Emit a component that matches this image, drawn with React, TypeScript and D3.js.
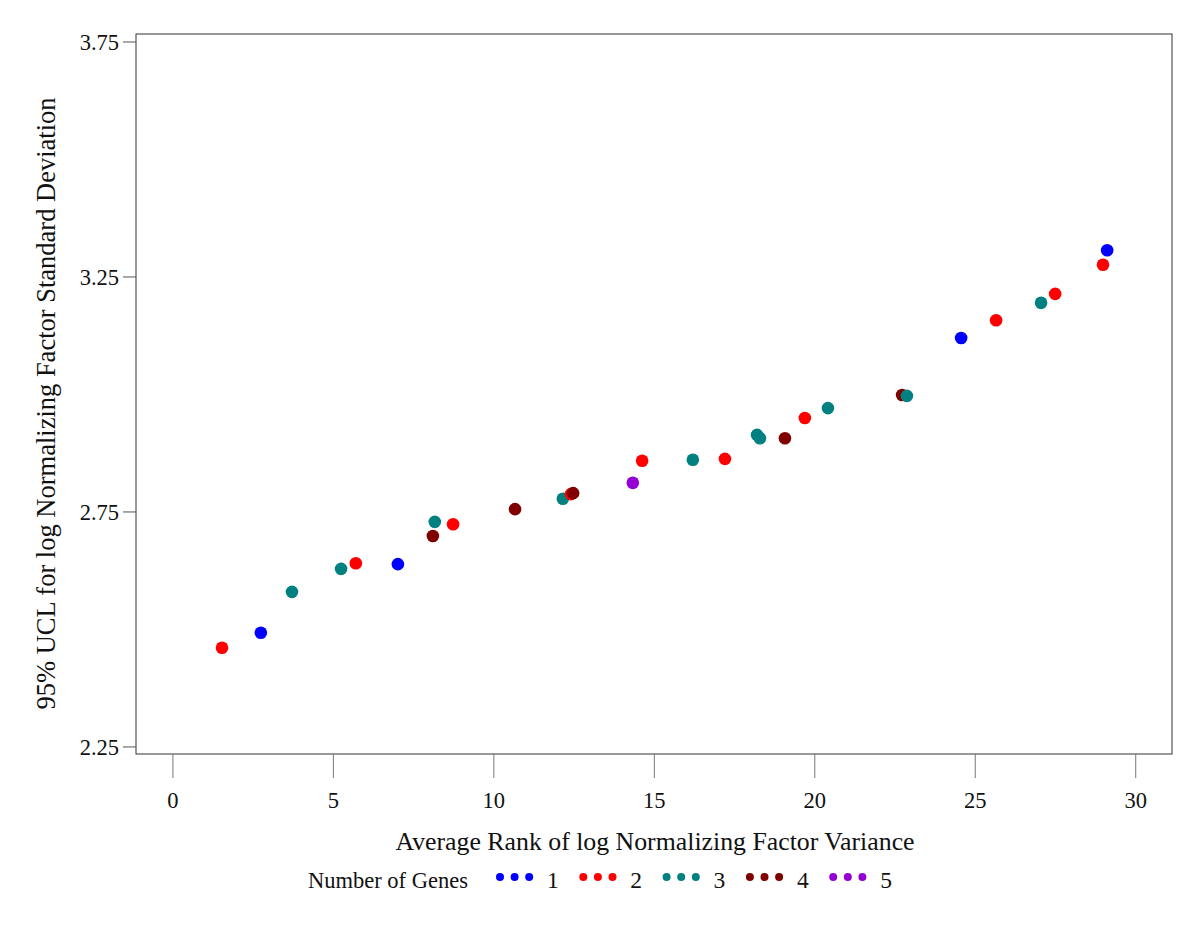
import React from "react";
import * as d3 from "d3";

const xValues = [1.53, 2.74, 3.71, 5.24, 5.70, 7.01, 8.10, 8.16, 8.73, 10.66, 12.15, 12.40, 12.47, 14.33, 14.62, 16.20, 17.20, 18.20, 18.29, 19.07, 19.69, 20.41, 22.72, 22.87, 24.56, 25.65, 27.05, 27.49, 28.98, 29.11];
const yValues = [2.461, 2.493, 2.580, 2.629, 2.641, 2.639, 2.699, 2.729, 2.724, 2.756, 2.778, 2.788, 2.790, 2.812, 2.859, 2.861, 2.863, 2.914, 2.907, 2.907, 2.950, 2.971, 2.999, 2.997, 3.120, 3.158, 3.195, 3.214, 3.276, 3.307];
const geneCounts = [2, 1, 3, 3, 2, 1, 4, 3, 2, 4, 3, 2, 4, 5, 2, 3, 2, 3, 3, 4, 2, 3, 4, 3, 1, 2, 3, 2, 2, 1];

const groupLabels = ["1", "2", "3", "4", "5"];
const groupColors = ["#0000ff", "#ff0000", "#008080", "#800000", "#9400d3"];
const xTicks = [0, 5, 10, 15, 20, 25, 30];
const yTicks = [2.25, 2.75, 3.25, 3.75];
const xDomain = [-1.15, 31.13];
const yDomain = [2.235, 3.767];

const FONT = "'Liberation Serif', 'Times New Roman', serif";

export default function App() {
  const left = 136, right = 1172, top = 34, bottom = 754;
  const x = d3.scaleLinear().domain(xDomain).range([left, right]);
  const y = d3.scaleLinear().domain(yDomain).range([bottom, top]);
  const color = d3.scaleOrdinal<string, string>().domain(groupLabels).range(groupColors);

  const points = xValues.map((xv, i) => ({ x: xv, y: yValues[i], g: String(geneCounts[i]) }));

  // legend layout
  const legendY = 877;
  const legendStart = 500;
  const groupStep = 83.3;

  return (
    <svg width={1200} height={927} style={{ position: "absolute", left: 0, top: 0, background: "#fff" }} fontFamily={FONT}>
      <rect x={0} y={0} width={1200} height={927} fill="#fff" />
      {/* frame */}
      <rect x={left} y={top} width={right - left} height={bottom - top} fill="none" stroke="#333" strokeWidth={1} />
      {/* y ticks */}
      {yTicks.map((t) => (
        <g key={"y" + t}>
          <line x1={left - 13} x2={left} y1={y(t)} y2={y(t)} stroke="#555" strokeWidth={1} />
          <text x={119} y={y(t)} dy="0.35em" textAnchor="end" fontSize={22.5} fill="#111">
            {t.toFixed(2)}
          </text>
        </g>
      ))}
      {/* x ticks */}
      {xTicks.map((t) => (
        <g key={"x" + t}>
          <line x1={x(t)} x2={x(t)} y1={bottom} y2={bottom + 24} stroke="#777" strokeWidth={1} />
          <text x={x(t)} y={808} textAnchor="middle" fontSize={22.5} fill="#111">
            {t}
          </text>
        </g>
      ))}
      {/* axis titles */}
      <text x={655} y={850} textAnchor="middle" fontSize={25.8} fill="#111">
        Average Rank of log Normalizing Factor Variance
      </text>
      <text
        transform={`translate(46, ${(95 + 712) / 2}) rotate(-90)`}
        textAnchor="middle"
        dominantBaseline="central"
        fontSize={26.5}
        fill="#111"
      >
        95% UCL for log Normalizing Factor Standard Deviation
      </text>
      {/* points */}
      {points.map((p, i) => (
        <circle key={i} cx={x(p.x)} cy={y(p.y)} r={6.3} fill={color(p.g)} />
      ))}
      {/* legend */}
      <text x={308} y={888} fontSize={22.5} fill="#111">
        Number of Genes
      </text>
      {groupLabels.map((g, i) => {
        const gx = legendStart + i * groupStep;
        return (
          <g key={"lg" + g}>
            {[0, 1, 2].map((k) => (
              <circle key={k} cx={gx + k * 14.6} cy={legendY} r={4} fill={color(g)} />
            ))}
            <text x={gx + 47} y={888} fontSize={23.5} fill="#111">
              {g}
            </text>
          </g>
        );
      })}
    </svg>
  );
}
